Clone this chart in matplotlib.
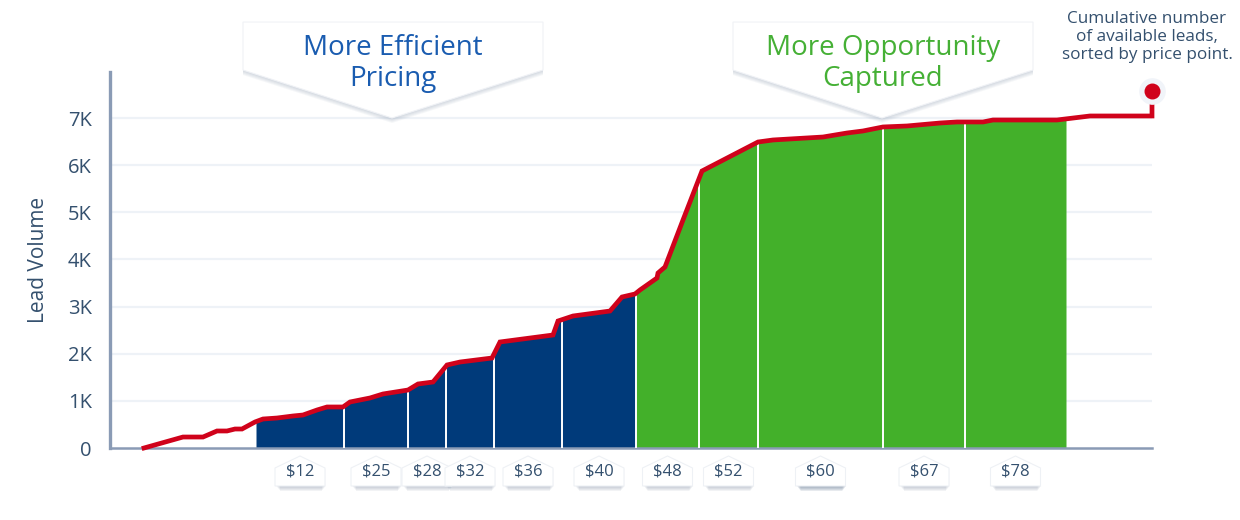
import matplotlib
matplotlib.use("Agg")
import matplotlib.pyplot as plt
from matplotlib.patches import Polygon
import numpy as np

plt.rcParams['font.family'] = ['Open Sans', 'DejaVu Sans']

# cumulative lead curve (x = position along price-sorted leads)
curve_x = [34, 73, 93, 107, 117, 125, 132, 145, 153, 167, 183, 193, 207, 217, 233,
           240, 260, 273, 298, 308, 323, 337, 350, 382, 390, 443, 448, 463, 500,
           512, 525, 530, 547, 548, 555, 573, 592, 648, 663, 713, 737, 753, 773,
           797, 830, 847, 873, 883, 947, 980, 1042, 1042]
curve_y = [0, 233, 233, 361, 361, 403, 403, 552, 615, 636, 679, 700, 806, 870, 870,
           976, 1061, 1146, 1230, 1358, 1400, 1761, 1824, 1909, 2249, 2397, 2694,
           2800, 2906, 3203, 3267, 3352, 3606, 3712, 3840, 4837, 5876, 6491, 6534,
           6597, 6682, 6725, 6810, 6831, 6894, 6916, 6916, 6958, 6958, 7043, 7043,
           7573]

# price tiers
tier_edges = [146, 234, 298, 336, 384, 452, 526, 589, 648, 773, 855, 956]
tier_labels = ['$12', '$25', '$28', '$32', '$36', '$40', '$48', '$52', '$60', '$67', '$78']
tier_group = ['eff'] * 6 + ['opp'] * 5

y_ticks = [0, 1000, 2000, 3000, 4000, 5000, 6000, 7000]
y_ticklabels = ['0', '1K', '2K', '3K', '4K', '5K', '6K', '7K']

BLUE = '#003a7a'
GREEN = '#43b02a'
RED = '#d0021b'
AXIS = '#8a9bb5'
TEXT = '#34506e'
GRID = '#eef2f7'
PX = 21.2  # data units per pixel vertically

fig = plt.figure(figsize=(12.4, 5.2), dpi=100)
ax = fig.add_axes([110 / 1240, 72 / 520, 1042 / 1240, 376 / 520])
ax.set_xlim(0, 1042)
ax.set_ylim(0, 7976)

for t in y_ticks[1:]:
    ax.axhline(t, color=GRID, lw=1.6, zorder=0)

cx = np.array(curve_x[:-1], dtype=float)
cy = np.array(curve_y[:-1], dtype=float)

# filled tiers
for i in range(len(tier_labels)):
    x0, x1 = tier_edges[i], tier_edges[i + 1]
    xs = np.concatenate([[x0], cx[(cx > x0) & (cx < x1)], [x1]])
    ys = np.interp(xs, cx, cy)
    col = BLUE if tier_group[i] == 'eff' else GREEN
    ax.fill_between(xs, 0, ys, color=col, lw=0, zorder=2)

for e in tier_edges[1:-1]:
    ax.plot([e, e], [0, np.interp(e, cx, cy) - 60], color='white', lw=1.4, zorder=3)

ax.plot(curve_x, curve_y, color=RED, lw=3.4, solid_joinstyle='miter', zorder=4,
        clip_on=False)
ax.scatter([curve_x[-1]], [curve_y[-1]], s=330, color='#f1f4f9', zorder=5, clip_on=False)
ax.scatter([curve_x[-1]], [curve_y[-1]], s=110, color=RED, zorder=6, clip_on=False)

# axes styling
for s in ['top', 'right']:
    ax.spines[s].set_visible(False)
ax.spines['left'].set_color(AXIS)
ax.spines['left'].set_linewidth(2.4)
ax.spines['bottom'].set_color(AXIS)
ax.spines['bottom'].set_linewidth(1.8)
ax.set_xticks([])
ax.set_yticks(y_ticks)
ax.set_yticklabels(y_ticklabels)
ax.tick_params(axis='y', length=0, pad=13, labelsize=14.5, labelcolor=TEXT)
ax.set_ylabel('Lead Volume', fontsize=15, color=TEXT, labelpad=14)

# price tags under the axis
for i, lab in enumerate(tier_labels):
    m = (tier_edges[i] + tier_edges[i + 1]) / 2
    hw = 25
    pts = [(m - hw, -424), (m, -170), (m + hw, -424), (m + hw, -806), (m - hw, -806)]
    strength = 1.8 if lab == '$60' else 1.0
    for k in range(1, 6):
        sh = [(x + 1 + (-0.8 * k if x > m else 0.8 * k), y - PX * k) for x, y in pts]
        ax.add_patch(Polygon(sh, closed=True, color='#6f819b',
                             alpha=min(0.09 * strength, 0.3), lw=0,
                             clip_on=False, zorder=1))
    ax.add_patch(Polygon(pts, closed=True, facecolor='white', edgecolor='#eef1f5',
                         lw=0.8, clip_on=False, zorder=2))
    ax.text(m, -500, lab, ha='center', va='center', fontsize=12, color=TEXT,
            clip_on=False, zorder=3)

# callouts
callouts = [(133, 433, 282, ['More Efficient', 'Pricing'], '#1a5cb0'),
            (623, 923, 772, ['More Opportunity', 'Captured'], '#45b035')]
for x0, x1, tip, lines, col in callouts:
    pts = [(x0, 9036), (x1, 9036), (x1, 8018), (tip, 7000), (x0, 8018)]
    for k in range(1, 6):
        sh = [(x, y - PX * k) for x, y in pts]
        ax.add_patch(Polygon(sh, closed=True, color='#7d8ea6', alpha=0.07, lw=0,
                             clip_on=False, zorder=6))
    ax.add_patch(Polygon(pts, closed=True, facecolor='white', edgecolor='#f0f2f6',
                         lw=0.8, clip_on=False, zorder=7))
    xm = (x0 + x1) / 2
    ax.text(xm, 8485, lines[0], ha='center', va='center', fontsize=20, color=col,
            zorder=8, clip_on=False)
    ax.text(xm, 7830, lines[1], ha='center', va='center', fontsize=20, color=col,
            zorder=8, clip_on=False)

ax.text(1037, 8720, 'Cumulative number\nof available leads,\nsorted by price point.',
        ha='center', va='center', fontsize=12.3, color=TEXT, linespacing=1.15,
        clip_on=False)

fig.savefig('out.png', dpi=100)
